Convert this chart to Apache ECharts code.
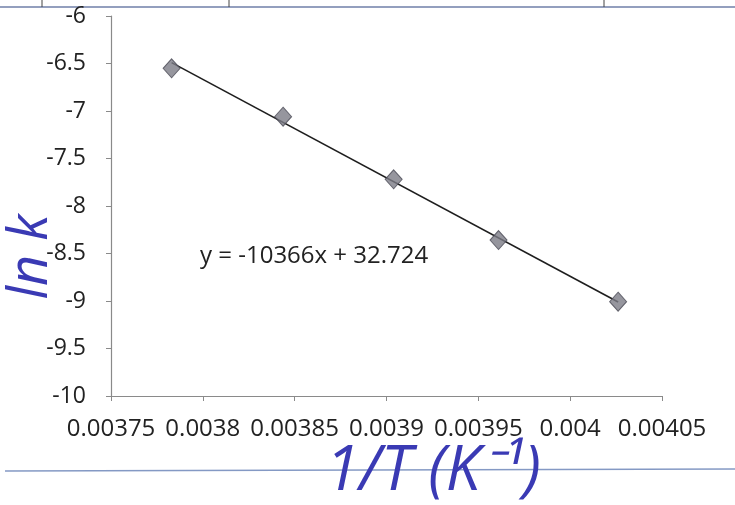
<!DOCTYPE html>
<html>
<head>
<meta charset="utf-8">
<script src="https://cdn.jsdelivr.net/npm/echarts@6/dist/echarts.min.js"></script>
<style>
  html, body { margin: 0; padding: 0; background: #ffffff; }
  #chart { width: 735px; height: 505px; }
</style>
</head>
<body>
<div id="chart"></div>
<script>
// Arrhenius plot: ln k against 1/T
const invT = [0.003783, 0.0038437, 0.0039039, 0.003961, 0.0040261];
const lnK = [-6.551, -7.060, -7.719, -8.358, -9.007];

// Linear fit reported on the chart
const slope = -10366;
const intercept = 32.724;
const fitLabel = 'y = -10366x + 32.724';

// Axis ranges and tick steps
const xMin = 0.00375, xMax = 0.00405, xStep = 0.00005;
const yMin = -10, yMax = -6, yStep = 0.5;

const fitLine = [invT[0], invT[invT.length - 1]].map(x => [x, slope * x + intercept]);
const points = invT.map((x, i) => [x, lnK[i]]);

const textColor = '#222222';
const inkBlue = '#3a3ab4';
const font = '"Open Sans", "Liberation Sans", sans-serif';

const chart = echarts.init(document.getElementById('chart'), null, { renderer: 'canvas' });

chart.setOption({
  animation: false,
  backgroundColor: '#ffffff',
  grid: { left: 111, right: 73, top: 16, bottom: 109 },
  xAxis: {
    type: 'value',
    min: xMin,
    max: xMax,
    interval: xStep,
    axisLine: { show: true, onZero: false, lineStyle: { color: '#8a8a8a', width: 1.2 } },
    axisTick: { show: true, inside: false, length: 5, lineStyle: { color: '#8a8a8a' } },
    splitLine: { show: false },
    axisLabel: {
      color: textColor,
      fontFamily: font,
      fontSize: 24,
      margin: 21,
      formatter: v => String(parseFloat(v.toFixed(5)))
    }
  },
  yAxis: {
    type: 'value',
    min: yMin,
    max: yMax,
    interval: yStep,
    axisLine: { show: true, onZero: false, lineStyle: { color: '#8a8a8a', width: 1.2 } },
    axisTick: { show: true, inside: false, length: 5, lineStyle: { color: '#8a8a8a' } },
    splitLine: { show: false },
    axisLabel: {
      color: textColor,
      fontFamily: font,
      fontSize: 23,
      margin: 25,
      formatter: v => String(parseFloat(v.toFixed(2)))
    }
  },
  series: [
    {
      name: 'fit',
      type: 'line',
      data: fitLine,
      symbol: 'none',
      lineStyle: { color: '#1e1e1e', width: 1.6 },
      z: 2
    },
    {
      name: 'ln k',
      type: 'scatter',
      data: points,
      symbol: 'diamond',
      symbolSize: [17, 19],
      itemStyle: { color: '#7c7c86', borderColor: '#4a4a55', borderWidth: 1 },
      z: 3
    }
  ],
  graphic: [
    // ruled lines of the sheet
    { type: 'line', shape: { x1: 0, y1: 7, x2: 735, y2: 7 }, style: { stroke: '#6f7fa8', lineWidth: 1.6 } },
    { type: 'line', shape: { x1: 42, y1: 0, x2: 42, y2: 7 }, style: { stroke: '#444', lineWidth: 1 } },
    { type: 'line', shape: { x1: 229, y1: 0, x2: 229, y2: 7 }, style: { stroke: '#444', lineWidth: 1 } },
    { type: 'line', shape: { x1: 604, y1: 0, x2: 604, y2: 7 }, style: { stroke: '#444', lineWidth: 1 } },
    { type: 'line', shape: { x1: 5, y1: 471, x2: 735, y2: 469 }, style: { stroke: '#8499c4', lineWidth: 1.6 } },
    // fit equation
    {
      type: 'text', left: 200, top: 244,
      style: { text: fitLabel, fill: textColor, font: '24px ' + font }
    },
    // handwritten axis names
    {
      type: 'text', x: 32, y: 257, rotation: Math.PI / 2,
      style: {
        text: 'ln k', fill: inkBlue, font: 'italic 54px ' + font,
        textAlign: 'center', textVerticalAlign: 'middle'
      }
    },
    {
      type: 'text', x: 433, y: 472,
      style: {
        text: '1/T (K\u207B\u00B9)', fill: inkBlue, font: 'italic 62px ' + font,
        textAlign: 'center', textVerticalAlign: 'middle'
      }
    }
  ]
});
</script>
</body>
</html>
